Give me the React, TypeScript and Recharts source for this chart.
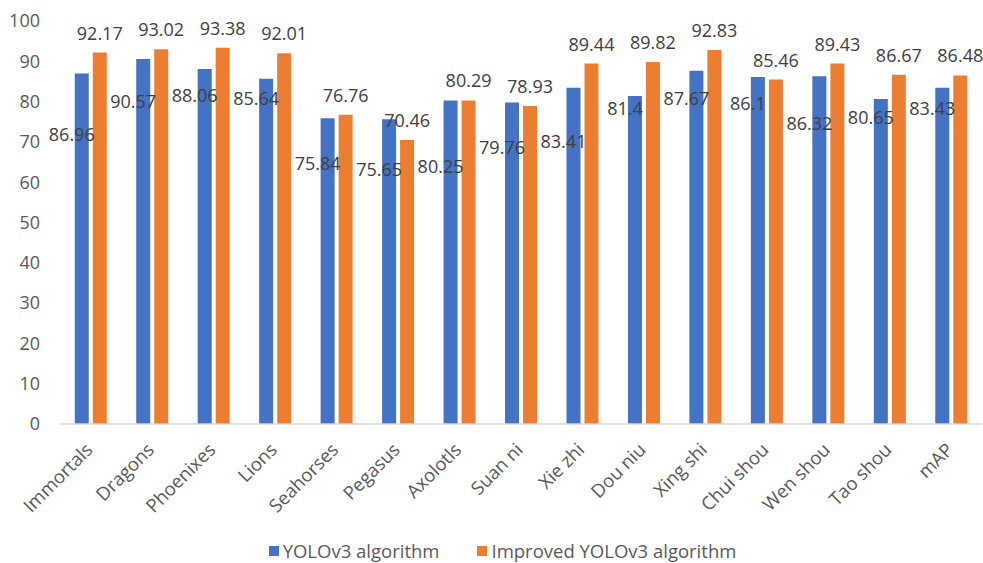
import { BarChart, Bar, XAxis, YAxis, LabelList } from 'recharts'

const categories = [
  'Immortals', 'Dragons', 'Phoenixes', 'Lions', 'Seahorses', 'Pegasus', 'Axolotls', 'Suan ni',
  'Xie zhi', 'Dou niu', 'Xing shi', 'Chui shou', 'Wen shou', 'Tao shou', 'mAP',
]
const yolov3 = [86.96, 90.57, 88.06, 85.64, 75.84, 75.65, 80.25, 79.76, 83.41, 81.4, 87.67, 86.1, 86.32, 80.65, 83.43]
const improved = [92.17, 93.02, 93.38, 92.01, 76.76, 70.46, 80.29, 78.93, 89.44, 89.82, 92.83, 85.46, 89.43, 86.67, 86.48]
const yTicks = [0, 10, 20, 30, 40, 50, 60, 70, 80, 90, 100]
const seriesNames = ['YOLOv3 algorithm', 'Improved YOLOv3 algorithm']
const seriesColors = ['#4472C4', '#ED7D31']

// in the source the blue labels were dragged by hand, below the top of each bar
const blueLabelDrop = [60, 42, 26, 19, 45, 50, 65, 44, 53, 12, 27, 26, 47, 18, 20]

const data = categories.map((name, i) => ({ name, yolo: yolov3[i], improved: improved[i] }))

const FONT = '"Open Sans", sans-serif'

function RotatedTick(props: any) {
  const { x, y, payload } = props
  const ax = x + 3
  const ay = y + 19
  return (
    <text
      x={ax}
      y={ay}
      transform={`rotate(-45, ${ax}, ${ay})`}
      textAnchor="end"
      fill="#595959"
      fontSize={18.5}
      fontFamily={FONT}
    >
      {payload.value}
    </text>
  )
}

function BlueLabel(props: any) {
  const { x, y, width, value, index } = props
  return (
    <text
      x={x + width / 2 - 10}
      y={y + blueLabelDrop[index]}
      dominantBaseline="central"
      textAnchor="middle"
      fill="#404040"
      fontSize={18}
      fontFamily={FONT}
    >
      {value}
    </text>
  )
}

function LegendBox() {
  return (
    <div
      style={{
        position: 'absolute',
        left: 22,
        right: 0,
        top: 540,
        height: 22,
        display: 'flex',
        justifyContent: 'center',
        alignItems: 'center',
        gap: 38,
        fontFamily: FONT,
        fontSize: 18.5,
        lineHeight: '22px',
        color: '#595959',
      }}
    >
      {seriesNames.map((n, i) => (
        <div key={n} style={{ display: 'flex', alignItems: 'center' }}>
          <span style={{ width: 10, height: 10, background: seriesColors[i], marginRight: 4, display: 'inline-block' }} />
          <span>{n}</span>
        </div>
      ))}
    </div>
  )
}

export default function App() {
  return (
    <div style={{ position: 'absolute', left: 0, top: 0, width: 983, height: 563, background: '#fff' }}>
      <BarChart
        width={983}
        height={563}
        data={data}
        margin={{ top: 21, right: 1, bottom: 31, left: 0 }}
        barCategoryGap="24%"
        barGap={4}
      >
        <XAxis
          dataKey="name"
          interval={0}
          tickLine={false}
          axisLine={{ stroke: '#d9d9d9', strokeWidth: 1.5 }}
          tick={<RotatedTick />}
          height={108}
        />
        <YAxis
          domain={[0, 100]}
          ticks={yTicks}
          width={60}
          axisLine={false}
          tickLine={false}
          tickSize={0}
          tickMargin={20}
          tick={{ fill: '#595959', fontSize: 18, fontFamily: FONT }}
        />
        <Bar dataKey="yolo" name={seriesNames[0]} fill={seriesColors[0]} isAnimationActive={false}>
          <LabelList dataKey="yolo" content={<BlueLabel />} />
        </Bar>
        <Bar dataKey="improved" name={seriesNames[1]} fill={seriesColors[1]} isAnimationActive={false}>
          <LabelList
            dataKey="improved"
            position="top"
            offset={13}
            fill="#404040"
            fontSize={18}
            fontFamily={FONT}
          />
        </Bar>
      </BarChart>
      <LegendBox />
    </div>
  )
}
